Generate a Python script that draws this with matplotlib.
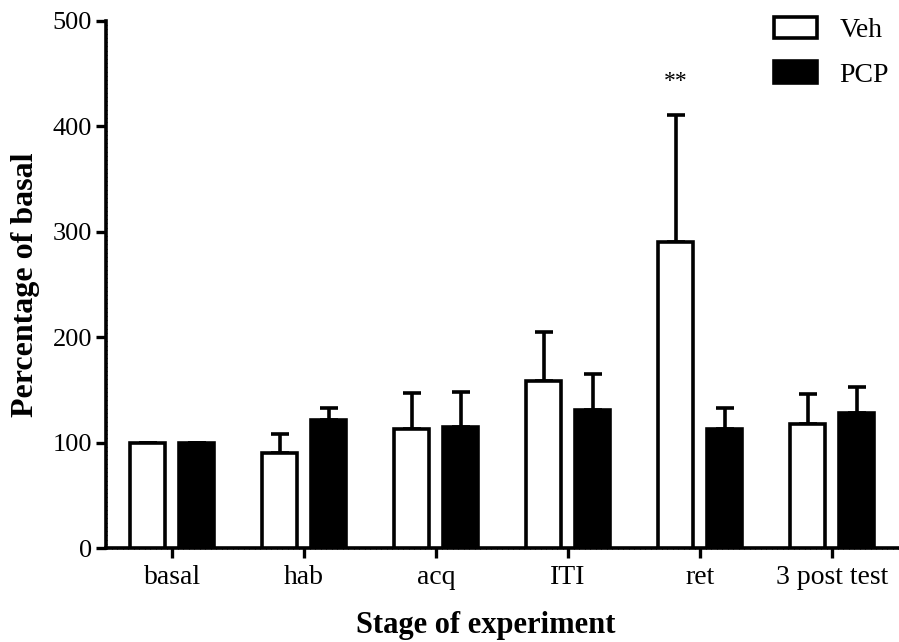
import matplotlib
matplotlib.use('Agg')
import matplotlib.pyplot as plt
from matplotlib.ticker import MultipleLocator
import numpy as np

# data
stages = ['basal', 'hab', 'acq', 'ITI', 'ret', '3 post test']
veh = [100, 90, 113, 158, 290, 118]
veh_err = [0, 18, 34, 47, 121, 28]
pcp = [100, 121, 115, 131, 113, 128]
pcp_err = [0, 12, 33, 34, 20, 25]

plt.rcParams['font.family'] = ['Liberation Serif', 'DejaVu Serif']

fig = plt.figure(figsize=(8.99, 6.42), dpi=100)
ax = fig.add_axes([0.118, 0.1464, 0.881, 0.8209])

x = np.arange(len(stages))
w = 0.26
off = 0.186
lw = 2.6

ax.bar(x - off, veh, w, color='white', edgecolor='black', linewidth=lw,
       label='Veh', zorder=3)
ax.bar(x + off, pcp, w, color='black', edgecolor='black', linewidth=lw,
       label='PCP', zorder=3)
ax.errorbar(x - off, veh, yerr=[np.zeros(len(veh)), veh_err], fmt='none',
            ecolor='black', elinewidth=lw, capsize=6.5, capthick=lw, zorder=2)
ax.errorbar(x + off, pcp, yerr=[np.zeros(len(pcp)), pcp_err], fmt='none',
            ecolor='black', elinewidth=lw, capsize=6.5, capthick=lw, zorder=2)

# significance marker
ax.text(x[4] - off, veh[4] + veh_err[4] + 22, '**', ha='center', va='bottom',
        fontsize=17)

ax.set_xlim(-0.5, 5.5)
ax.set_ylim(0, 500)
ax.set_xticks(x)
ax.set_xticklabels(stages, fontsize=20)
ax.set_yticks([0, 100, 200, 300, 400, 500])
ax.tick_params(axis='y', labelsize=19)
ax.yaxis.set_minor_locator(MultipleLocator(4))
ax.xaxis.set_minor_locator(MultipleLocator(1 / 24))
ax.tick_params(which='major', width=2.4, length=7, direction='out', pad=3)
ax.tick_params(axis='x', which='major', pad=5)
ax.tick_params(which='minor', width=0.8, length=2, direction='inout')

for s in ['top', 'right']:
    ax.spines[s].set_visible(False)
for s in ['left', 'bottom']:
    ax.spines[s].set_linewidth(2.6)

ax.set_ylabel('Percentage of basal', fontsize=23, fontweight='bold')
ax.set_xlabel('Stage of experiment', fontsize=22, fontweight='bold')
ax.yaxis.set_label_coords(-0.083, 0.5)
ax.xaxis.set_label_coords(0.479, -0.12)

leg = ax.legend(loc='upper right', bbox_to_anchor=(1.02, 1.055), frameon=False,
                fontsize=20, handlelength=1.55, handleheight=0.8,
                handletextpad=0.8, labelspacing=0.65)

fig.savefig('out.png', dpi=100)
